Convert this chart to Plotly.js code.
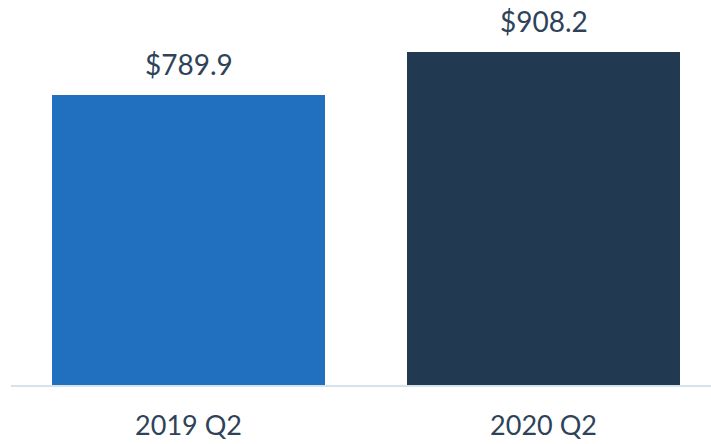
<!DOCTYPE html>
<html><head><meta charset="utf-8">
<script src="https://cdn.plot.ly/plotly-3.0.1.min.js"></script>
<style>html,body{margin:0;padding:0;background:#fff}#c{width:711px;height:444px}</style>
</head><body><div id="c"></div>
<script>
const categories = ["2019 Q2", "2020 Q2"];
const values = [789.9, 908.2];
const valueLabels = ["$789.9", "$908.2"];
const barColors = ["#2170c0", "#213a52"];

const textColor = "#2e4359";
const font = "Lato, 'Open Sans', sans-serif";

const trace = {
  type: "bar",
  x: [0, 1],
  y: values,
  width: 0.769,
  marker: {color: barColors},
  hoverinfo: "skip"
};

const annotations = values.map((v, i) => ({
  x: i, y: v, xref: "x", yref: "y",
  text: valueLabels[i], showarrow: false,
  yanchor: "bottom", yshift: 12,
  font: {family: font, size: 28, color: textColor}
}));

const layout = {
  width: 711, height: 444,
  margin: {l: 11, r: 0, t: 0, b: 59},
  paper_bgcolor: "#fff", plot_bgcolor: "#fff",
  showlegend: false,
  bargap: 0,
  xaxis: {
    range: [-0.5, 1.4718],
    tickvals: [0, 1], ticktext: categories,
    showgrid: false, zeroline: false,
    showline: true, linecolor: "#d6e2ec", linewidth: 2,
    ticks: "", ticklabelstandoff: 16,
    tickfont: {family: font, size: 27, color: textColor}
  },
  yaxis: {
    range: [0, 1050],
    visible: false, showgrid: false, zeroline: false
  },
  annotations: annotations
};

Plotly.newPlot("c", [trace], layout, {staticPlot: true, displayModeBar: false});
</script></body></html>
